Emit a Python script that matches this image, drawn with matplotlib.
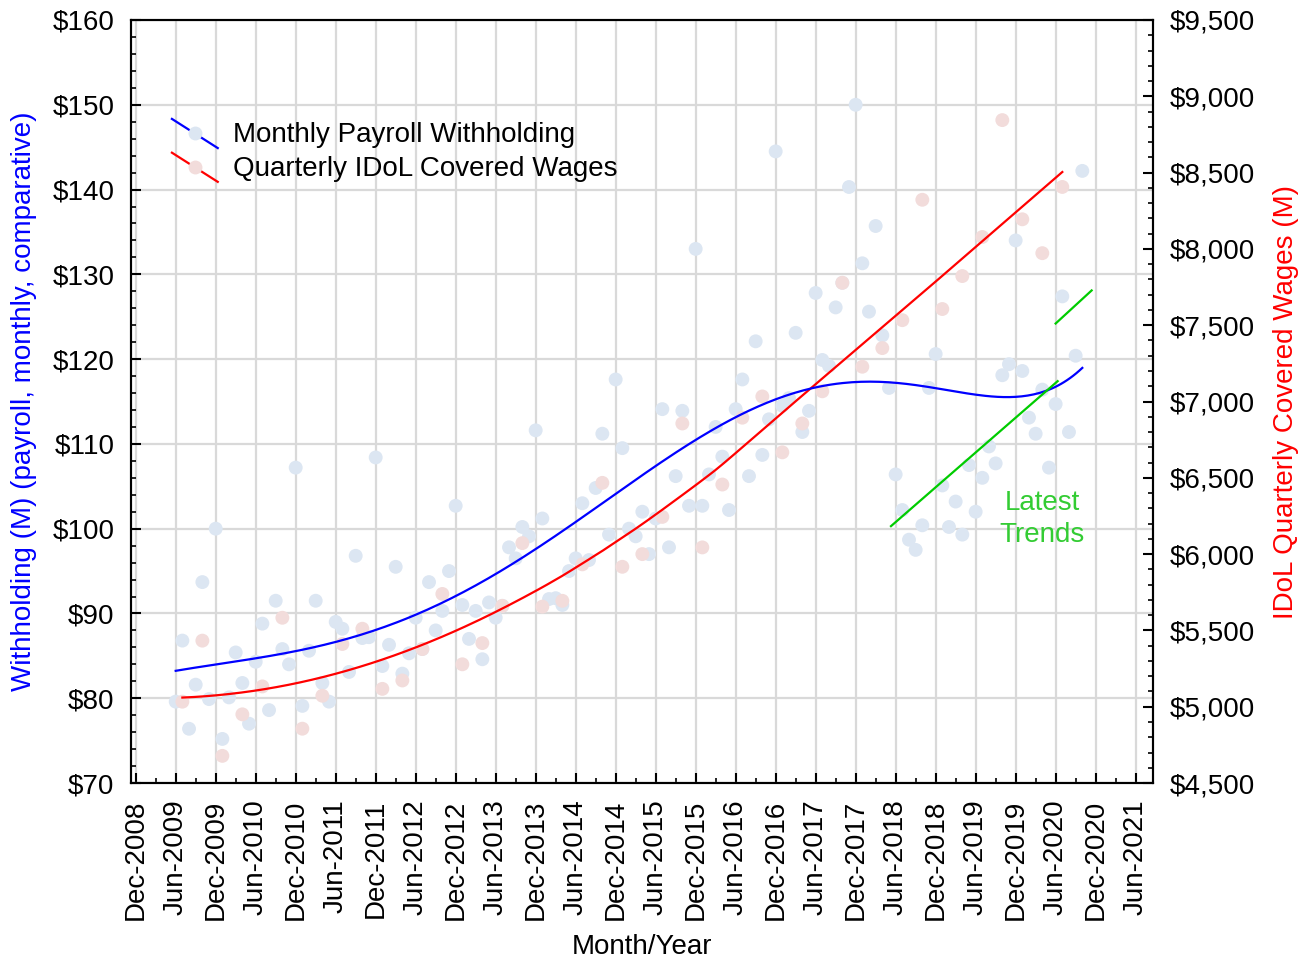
import numpy as np
import matplotlib
matplotlib.use('Agg')
import matplotlib.pyplot as plt
from matplotlib.lines import Line2D
from matplotlib.legend_handler import HandlerBase
from matplotlib.ticker import MultipleLocator, FuncFormatter, FixedLocator

plt.rcParams['font.family'] = ['Liberation Sans', 'DejaVu Sans']
FS = 20

# ---------------- data ----------------
# months counted from Dec-2008 (0); monthly series starts Jun-2009
withholding_start = 6
withholding = [
    79.6, 86.8, 76.4, 81.6, 93.7, 79.9, 100.0, 75.2, 80.1, 85.4,
    81.8, 77.0, 84.3, 88.8, 78.6, 91.5, 85.8, 84.0, 107.2, 79.1,
    85.6, 91.5, 81.8, 79.6, 89.0, 88.2, 83.1, 96.8, 87.1, 87.2,
    108.4, 83.8, 86.3, 95.5, 82.9, 85.3, 89.5, 85.8, 93.7, 88.0,
    90.3, 95.0, 102.7, 91.0, 87.0, 90.3, 84.6, 91.3, 89.5, 90.9,
    97.8, 96.5, 100.2, 99.1, 111.6, 101.2, 91.7, 91.8, 91.0, 95.0,
    96.5, 103.0, 96.3, 104.8, 111.2, 99.3, 117.6, 109.5, 100.0, 99.1,
    102.0, 97.0, 101.2, 114.1, 97.8, 106.2, 113.9, 102.7, 133.0, 102.7,
    106.4, 112.0, 108.5, 102.2, 114.1, 117.6, 106.2, 122.1, 108.7, 112.9,
    144.5, 114.5, 115.4, 123.1, 111.4, 113.9, 127.8, 119.9, 119.2, 126.1,
    129.0, 140.3, 150.0, 131.3, 125.6, 135.7, 122.8, 116.6, 106.4, 102.2,
    98.7, 97.5, 100.4, 116.6, 120.6, 105.1, 100.2, 103.2, 99.3, 107.5,
    102.0, 106.0, 109.7, 107.7, 118.1, 119.4, 134.0, 118.6, 113.1, 111.2,
    116.4, 107.2, 114.7, 127.4, 111.4, 120.4, 142.2,
]
# quarterly series, every 3 months starting Jul-2009
wages_start = 7
wages_step = 3
wages = [
    5033, 5433, 4678, 4950, 5133, 5583, 4856, 5072, 5411, 5511,
    5117, 5172, 5378, 5739, 5278, 5417, 5661, 6072, 5656, 5694,
    5933, 6467, 5917, 6000, 6244, 6856, 6044, 6456, 6894, 7033,
    6667, 6856, 7067, 7778, 7228, 7350, 7533, 8322, 7606, 7822,
    8078, 8844, 8194, 7972, 8406,
]
tick_labels = ['Dec-2008', 'Jun-2009', 'Dec-2009', 'Jun-2010', 'Dec-2010', 'Jun-2011',
               'Dec-2011', 'Jun-2012', 'Dec-2012', 'Jun-2013', 'Dec-2013', 'Jun-2014',
               'Dec-2014', 'Jun-2015', 'Dec-2015', 'Jun-2016', 'Dec-2016', 'Jun-2017',
               'Dec-2017', 'Jun-2018', 'Dec-2018', 'Jun-2019', 'Dec-2019', 'Jun-2020',
               'Dec-2020', 'Jun-2021']
# "Latest Trends" segments (month, withholding $M)
trend1_months = [113.3, 138.3]
trend1_values = [100.3, 117.4]
trend2_months = [138.0, 143.4]
trend2_values = [124.2, 128.1]

BLUE_PT = '#dce6f2'
PINK_PT = '#f2dcdb'
GREEN = '#00cc00'
GREEN_TXT = '#33cc33'


def lowess(x, y, xs, frac, deg):
    """Locally weighted polynomial smoother (tricube weights, nearest-neighbour span)."""
    x = np.asarray(x, float)
    y = np.asarray(y, float)
    k = int(np.ceil(frac * len(x)))
    out = []
    for x0 in xs:
        d = np.abs(x - x0)
        h = np.sort(d)[k - 1]
        w = np.clip(1 - (d / h) ** 3, 0, None) ** 3
        p = np.polyfit(x, y, deg, w=np.sqrt(w))
        out.append(np.polyval(p, x0))
    return np.array(out)


def gsmooth(x, y, xs, sigma, deg):
    """Gaussian-kernel local polynomial smoother."""
    x = np.asarray(x, float)
    y = np.asarray(y, float)
    out = []
    for x0 in xs:
        w = np.exp(-0.5 * ((x - x0) / sigma) ** 2)
        p = np.polyfit(x - x0, y, deg, w=np.sqrt(w))
        out.append(p[-1])
    return np.array(out)


# ---------------- figure ----------------
fig = plt.figure(figsize=(13, 9.61), dpi=100)
ax = fig.add_axes([0.1008, 0.1852, 0.7861, 0.7940])
ax2 = ax.twinx()

xm = withholding_start + np.arange(len(withholding))
xw = wages_start + wages_step * np.arange(len(wages))

sc1 = ax.scatter(xm, withholding, s=100, color=BLUE_PT, edgecolors='none', zorder=2)
sc2 = ax2.scatter(xw, wages, s=100, color=PINK_PT, edgecolors='none', zorder=2)

# smoothed trend curves computed from the data
xs_b = np.linspace(xm[0], xm[-1], 300)
xs_r = np.linspace(xw[0], xw[-1], 300)
ax2.plot(xs_r, lowess(xw, wages, xs_r, 0.8, 2), color='#ff0000', lw=1.6, zorder=3)
ax2.plot(xs_b, gsmooth(xm, withholding, xs_b, 33, 3), color='#0000ff', lw=1.6, zorder=4,
         transform=ax.transData)
ax2.plot(trend1_months, trend1_values, color=GREEN, lw=1.6, zorder=4, transform=ax.transData)
ax2.plot(trend2_months, trend2_values, color=GREEN, lw=1.6, zorder=4, transform=ax.transData)
ax2.text(136.0, 101.2, 'Latest\nTrends', color=GREEN_TXT, fontsize=FS, ha='center',
         va='center', multialignment='center', linespacing=1.3, transform=ax.transData,
         zorder=5)

# axes limits & ticks
ax.set_xlim(-0.7, 152.6)
ax.set_ylim(70, 160)
ax2.set_ylim(4500, 9500)
ax.xaxis.set_major_locator(FixedLocator(np.arange(0, 6 * len(tick_labels), 6)))
ax.set_xticklabels(tick_labels, rotation=90)
ax.xaxis.set_minor_locator(MultipleLocator(3))
ax.yaxis.set_major_locator(MultipleLocator(10))
ax.yaxis.set_minor_locator(MultipleLocator(2))
ax.yaxis.set_major_formatter(FuncFormatter(lambda v, p: f'${v:.0f}'))
ax2.yaxis.set_major_locator(MultipleLocator(500))
ax2.yaxis.set_minor_locator(MultipleLocator(100))
ax2.yaxis.set_major_formatter(FuncFormatter(lambda v, p: f'${v:,.0f}'))

for a in (ax, ax2):
    a.tick_params(which='major', direction='in', length=7, width=1.5, labelsize=FS, pad=12)
    a.tick_params(which='minor', direction='in', length=3.5, width=1.2)
    for s in a.spines.values():
        s.set_linewidth(1.5)

ax.grid(True, which='major', color='#d9d9d9', lw=1.6)
ax.set_axisbelow(True)

ax.set_xlabel('Month/Year', fontsize=FS, labelpad=10)
ax.set_ylabel('Withholding (M) (payroll, monthly, comparative)', fontsize=FS,
              color='#0000ff', labelpad=11)
ax2.set_ylabel('IDoL Quarterly Covered Wages (M)', fontsize=FS, color='#ff0000',
               labelpad=13)


# legend with slanted handles
class DiagHandler(HandlerBase):
    def __init__(self, line_color, marker_color):
        super().__init__()
        self.lc = line_color
        self.mc = marker_color

    def create_artists(self, legend, orig_handle, xdescent, ydescent, width, height,
                       fontsize, trans):
        x0, x1 = -xdescent, -xdescent + width
        y0, y1 = -ydescent + height * 1.2, -ydescent - height * 0.3
        ln = Line2D([x0, x1], [y0, y1], color=self.lc, lw=1.6, transform=trans)
        mk = Line2D([(x0 + x1) / 2], [(y0 + y1) / 2], marker='o', ms=10, ls='none',
                    markerfacecolor=self.mc, markeredgecolor='none', transform=trans)
        return [ln, mk]


leg = ax2.legend([sc1, sc2], ['Monthly Payroll Withholding', 'Quarterly IDoL Covered Wages'],
                 handler_map={sc1: DiagHandler('#0000ff', BLUE_PT),
                              sc2: DiagHandler('#ff0000', PINK_PT)},
                 loc='upper left', bbox_to_anchor=(0.040, 0.866), frameon=False,
                 fontsize=FS, handlelength=1.65, handletextpad=0.55, labelspacing=0.28,
                 borderpad=0, borderaxespad=0)
leg.set_zorder(6)

fig.savefig('out.png', dpi=100)
